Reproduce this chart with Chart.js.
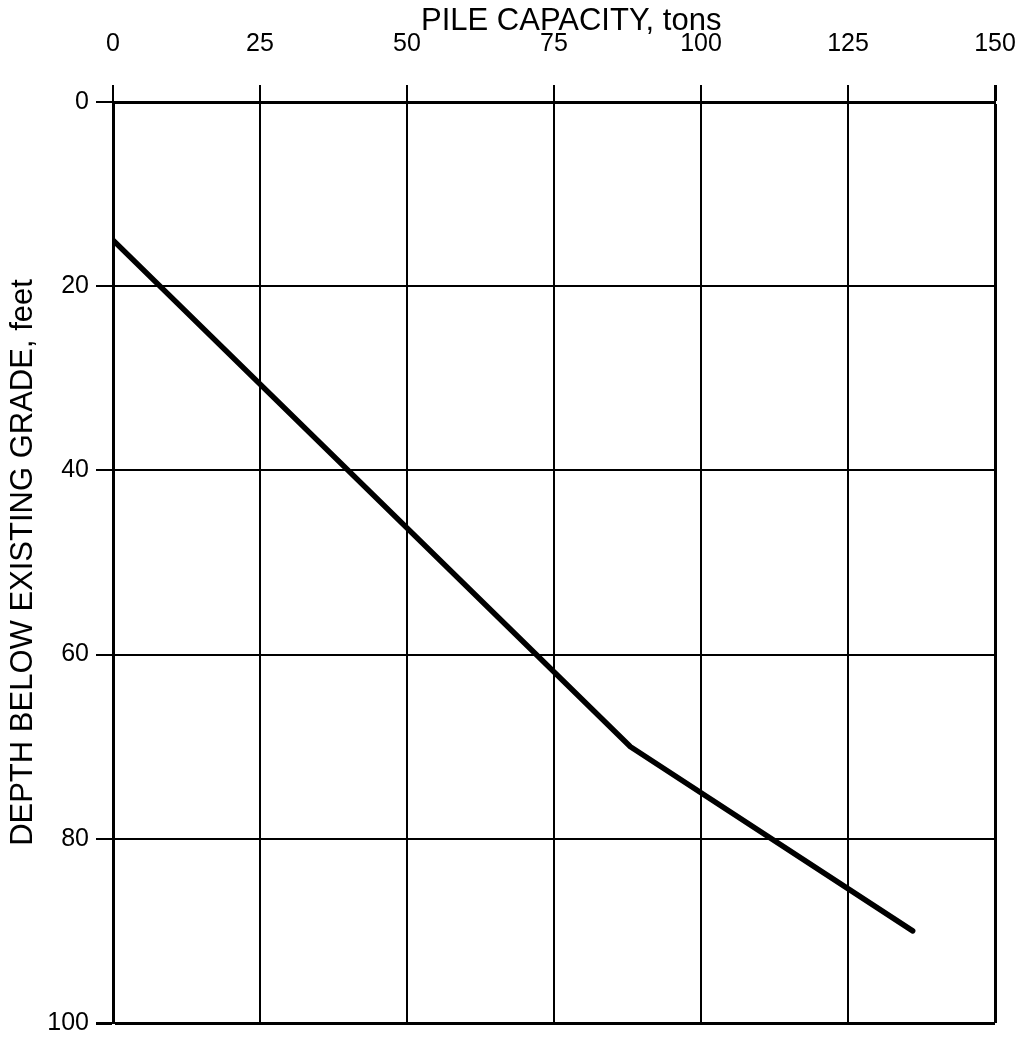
<!DOCTYPE html>
<html>
<head>
<meta charset="utf-8">
<script src="https://cdn.jsdelivr.net/npm/chart.js@4/dist/chart.umd.min.js"></script>
<style>
    html, body { margin: 0; padding: 0; background: #fff; }
    #wrap { width: 1025px; height: 1037px; position: relative; }
</style>
</head>
<body>
<div id="wrap"><canvas id="pileChart"></canvas></div>
<script>
const capacityTons = [0, 88, 136];
const depthFeet = [15, 70, 90];

const capacityTicks = [0, 25, 50, 75, 100, 125, 150];
const depthTicks = [0, 20, 40, 60, 80, 100];

const fontFamily = "'Liberation Sans', Arial, Helvetica, sans-serif";

new Chart(document.getElementById("pileChart"), {
    type: "scatter",
    data: {
        datasets: [{
            data: capacityTons.map((x, i) => ({ x: x, y: depthFeet[i] })),
            showLine: true,
            borderColor: "#000",
            borderWidth: 5.5,
            borderCapStyle: "round",
            borderJoinStyle: "round",
            pointRadius: 0,
            tension: 0
        }]
    },
    options: {
        responsive: true,
        maintainAspectRatio: false,
        animation: false,
        layout: { padding: 0 },
        plugins: {
            legend: { display: false },
            tooltip: { enabled: false }
        },
        scales: {
            x: {
                type: "linear",
                position: "top",
                min: 0,
                max: 150,
                afterBuildTicks: scale => {
                    scale.ticks = capacityTicks.map(v => ({ value: v }));
                },
                afterFit: scale => {
                    scale.height = 102;
                    scale.paddingLeft = 0;
                    scale.paddingRight = 30;
                },
                grid: {
                    color: "#000",
                    lineWidth: ctx => (ctx.tick && ctx.tick.value === 150 ? 3 : 2),
                    tickLength: 17
                },
                border: { color: "#000", width: 3 },
                ticks: {
                    color: "#000",
                    padding: 26,
                    maxRotation: 0,
                    font: { family: fontFamily, size: 25 }
                },
                title: {
                    display: true,
                    text: "    PILE CAPACITY, tons",
                    color: "#000",
                    padding: { top: 3, bottom: 0 },
                    font: { family: fontFamily, size: 31 }
                }
            },
            y: {
                type: "linear",
                reverse: true,
                min: 0,
                max: 100,
                afterBuildTicks: scale => {
                    scale.ticks = depthTicks.map(v => ({ value: v }));
                },
                afterFit: scale => {
                    scale.width = 113;
                    scale.paddingTop = 0;
                    scale.paddingBottom = 14;
                },
                grid: {
                    color: "#000",
                    lineWidth: ctx => (ctx.tick && ctx.tick.value === 100 ? 3 : 2),
                    tickLength: 17
                },
                border: { color: "#000", width: 3 },
                ticks: {
                    color: "#000",
                    padding: 7,
                    font: { family: fontFamily, size: 25 }
                },
                title: {
                    display: true,
                    text: "DEPTH BELOW EXISTING GRADE, feet",
                    color: "#000",
                    padding: { top: 5, bottom: 0 },
                    font: { family: fontFamily, size: 31 }
                }
            }
        }
    }
});
</script>
</body>
</html>
